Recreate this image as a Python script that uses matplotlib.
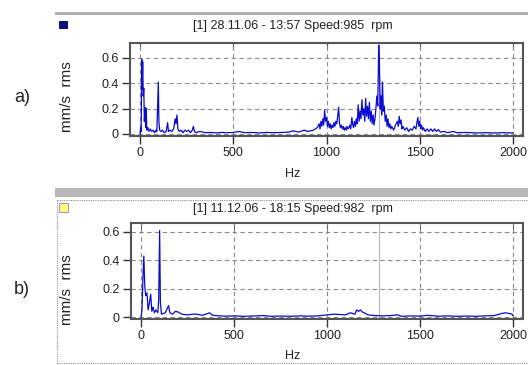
import matplotlib
matplotlib.use('Agg')
import matplotlib.pyplot as plt
from matplotlib.lines import Line2D
from matplotlib.patches import Rectangle

# --- data ---
freq_a = [0, 3, 6, 9, 11, 14, 17, 20, 23, 27, 30, 33, 36, 42, 48, 55, 62, 70, 78, 85,
          90, 95, 98, 101, 105, 112, 120, 130, 140, 148, 152, 160, 170, 180, 188, 193, 198,
          203, 210, 220, 230, 240, 250, 260, 270, 280, 286, 292, 300, 320, 350, 380, 410,
          440, 470, 500, 530, 560, 600, 640, 680, 720, 760, 800, 820, 850, 880, 900, 930,
          950, 960, 965, 970, 975, 980, 985, 990, 995, 1000, 1005, 1010, 1015, 1020, 1025,
          1030, 1035, 1040, 1045, 1050, 1055, 1060, 1065, 1070, 1075, 1080, 1085, 1090,
          1095, 1100, 1105, 1110, 1115, 1120, 1125, 1130, 1136, 1140, 1145, 1150, 1155,
          1160, 1165, 1170, 1175, 1180, 1185, 1190, 1195, 1200, 1205, 1210, 1215, 1220,
          1225, 1230, 1235, 1240, 1245, 1250, 1255, 1260, 1265, 1270, 1275, 1280, 1284,
          1288, 1292, 1296, 1300, 1305, 1310, 1315, 1320, 1325, 1330, 1335, 1340, 1345,
          1350, 1360, 1370, 1380, 1385, 1390, 1395, 1400, 1405, 1410, 1420, 1430, 1440,
          1450, 1460, 1470, 1480, 1485, 1490, 1495, 1500, 1505, 1510, 1515, 1520, 1530,
          1540, 1550, 1560, 1570, 1580, 1590, 1600, 1610, 1630, 1650, 1680, 1700, 1750,
          1800, 1850, 1900, 1950, 1990, 2000]
amp_a = [0.0, 0.05, 0.02, 0.59, 0.35, 0.57, 0.30, 0.36, 0.10, 0.21, 0.05, 0.20, 0.03, 0.05,
         0.02, 0.04, 0.02, 0.03, 0.01, 0.03, 0.02, 0.25, 0.41, 0.10, 0.03, 0.02, 0.03, 0.01,
         0.02, 0.09, 0.02, 0.03, 0.02, 0.04, 0.12, 0.08, 0.15, 0.04, 0.02, 0.03, 0.01, 0.03,
         0.02, 0.03, 0.01, 0.03, 0.06, 0.02, 0.01, 0.02, 0.01, 0.012, 0.008, 0.012, 0.01,
         0.012, 0.02, 0.01, 0.012, 0.008, 0.012, 0.01, 0.012, 0.015, 0.025, 0.015, 0.03,
         0.02, 0.03, 0.05, 0.08, 0.04, 0.10, 0.06, 0.12, 0.07, 0.19, 0.10, 0.13, 0.06, 0.10,
         0.05, 0.08, 0.04, 0.07, 0.05, 0.09, 0.06, 0.10, 0.08, 0.14, 0.21, 0.08, 0.05, 0.07,
         0.04, 0.06, 0.03, 0.05, 0.03, 0.06, 0.04, 0.05, 0.07, 0.04, 0.13, 0.08, 0.05, 0.10,
         0.06, 0.12, 0.08, 0.23, 0.10, 0.18, 0.12, 0.27, 0.15, 0.20, 0.10, 0.28, 0.14, 0.22,
         0.12, 0.25, 0.10, 0.18, 0.08, 0.15, 0.07, 0.12, 0.20, 0.30, 0.22, 0.70, 0.55, 0.20,
         0.30, 0.15, 0.41, 0.18, 0.22, 0.10, 0.15, 0.06, 0.12, 0.05, 0.08, 0.04, 0.06, 0.03,
         0.07, 0.10, 0.06, 0.14, 0.08, 0.11, 0.04, 0.06, 0.03, 0.05, 0.02, 0.04, 0.03, 0.06,
         0.04, 0.09, 0.13, 0.06, 0.10, 0.04, 0.07, 0.03, 0.05, 0.02, 0.04, 0.02, 0.04, 0.02,
         0.04, 0.02, 0.035, 0.015, 0.02, 0.01, 0.02, 0.01, 0.012, 0.008, 0.01, 0.008, 0.01,
         0.008, 0.01]

freq_b = [0, 5, 10, 15, 20, 25, 32, 38, 45, 52, 58, 65, 72, 80, 90, 95, 100, 104, 110,
          130, 148, 155, 170, 185, 200, 220, 250, 280, 300, 330, 370, 380, 400, 450, 500,
          550, 600, 660, 700, 750, 800, 850, 900, 950, 1000, 1040, 1100, 1125, 1150, 1160,
          1170, 1180, 1190, 1200, 1220, 1260, 1300, 1340, 1380, 1400, 1450, 1500, 1540,
          1600, 1650, 1700, 1750, 1800, 1850, 1900, 1940, 1960, 1980, 1995, 2000]
amp_b = [0.0, 0.05, 0.27, 0.43, 0.22, 0.15, 0.17, 0.05, 0.10, 0.16, 0.04, 0.07, 0.03, 0.05,
         0.03, 0.12, 0.61, 0.10, 0.02, 0.03, 0.08, 0.03, 0.02, 0.04, 0.035, 0.02, 0.015,
         0.02, 0.02, 0.012, 0.03, 0.015, 0.01, 0.006, 0.008, 0.005, 0.007, 0.01, 0.005,
         0.007, 0.005, 0.008, 0.006, 0.008, 0.015, 0.02, 0.015, 0.03, 0.02, 0.05, 0.04,
         0.05, 0.035, 0.03, 0.015, 0.01, 0.008, 0.01, 0.015, 0.005, 0.008, 0.006, 0.012,
         0.006, 0.008, 0.005, 0.007, 0.005, 0.008, 0.01, 0.025, 0.03, 0.025, 0.02, 0.01]

cursor_hz = 1280
x_ticks = [0, 500, 1000, 1500, 2000]
y_ticks = [0, 0.2, 0.4, 0.6]
y_tick_labels = ['0', '0.2', '0.4', '0.6']
titles = ['[1] 28.11.06 - 13:57 Speed:985  rpm', '[1] 11.12.06 - 18:15 Speed:982  rpm']
panel_labels = ['a)', 'b)']

W, H = 528, 365
plt.rcParams['font.family'] = ['Liberation Sans Narrow', 'Liberation Sans', 'DejaVu Sans']

fig = plt.figure(figsize=(W / 100, H / 100), dpi=100)


def fx(x):
    return x / W


def fy(y):
    return 1 - y / H


def panel(box, ylim, freq, amp, title, label, title_y, hz_y, label_y):
    left, top, right, bottom = box
    ax = fig.add_axes([fx(left), fy(bottom), (right - left) / W, (bottom - top) / H])
    ax.axvline(cursor_hz, color='#b8b8b8', lw=0.8, zorder=1)
    ax.plot(freq, amp, color='#0a0ad0', lw=0.9, zorder=3)
    ax.set_xlim(-54, 2054)
    ax.set_ylim(*ylim)
    ax.set_xticks(x_ticks)
    ax.set_yticks(y_ticks)
    ax.set_yticklabels(y_tick_labels)
    ax.grid(True, color='#8a8a8a', ls=(0, (4, 3)), lw=0.8, zorder=0)
    ax.tick_params(direction='out', length=6, width=1, color='#333333',
                   labelsize=9, pad=2, labelcolor='#222222')
    for s in ax.spines.values():
        s.set_color('#555555')
        s.set_linewidth(1.5)
    # little ticks on the top edge, pointing inside
    top_ax = ax.secondary_xaxis('top')
    top_ax.set_xticks(x_ticks)
    top_ax.tick_params(direction='in', length=4, color='#555555', labeltop=False)
    top_ax.spines['top'].set_visible(False)
    fig.text(fx(293), fy(title_y), title, ha='center', va='center', fontsize=9,
             color='#222222')
    fig.text(fx(293), fy(hz_y), 'Hz', ha='center', va='center', fontsize=9,
             color='#222222')
    fig.text(fx(67), fy(label_y), 'mm/s  rms', ha='center', va='center', fontsize=11,
             rotation=90, color='#222222')
    fig.text(fx(22), fy(label_y), label, ha='center', va='center', fontsize=13,
             color='#222222')
    return ax


panel((130, 43, 523, 136), (-0.016, 0.718), freq_a, amp_a, titles[0], panel_labels[0],
      26, 174, 97)
panel((131, 223, 523, 319), (-0.014, 0.663), freq_b, amp_b, titles[1], panel_labels[1],
      209, 356, 290)

# window chrome: gray bars, coloured squares, dotted frame of panel b
fig.add_artist(Rectangle((fx(55), fy(15)), (W - 55) / W, 3 / H, transform=fig.transFigure,
                         facecolor='#b0b0b0', edgecolor='none'))
fig.add_artist(Rectangle((fx(55), fy(197)), (W - 55) / W, 9 / H, transform=fig.transFigure,
                         facecolor='#b8b8b8', edgecolor='none'))
fig.add_artist(Rectangle((fx(59), fy(29)), 9 / W, 8 / H, transform=fig.transFigure,
                         facecolor='#10107a', edgecolor='none'))
fig.add_artist(Rectangle((fx(59), fy(212)), 9 / W, 9 / H, transform=fig.transFigure,
                         facecolor='#ffff88', edgecolor='#a0a0a0', lw=0.8))
dots = dict(transform=fig.transFigure, color='#909090', lw=0.8, ls=(0, (1, 1)))
fig.add_artist(Line2D([fx(57), 1], [fy(200), fy(200)], **dots))
fig.add_artist(Line2D([fx(57), fx(57)], [fy(200), fy(365)], **dots))
fig.add_artist(Line2D([fx(57), 1], [fy(363), fy(363)], **dots))

fig.savefig('out.png', dpi=100)
